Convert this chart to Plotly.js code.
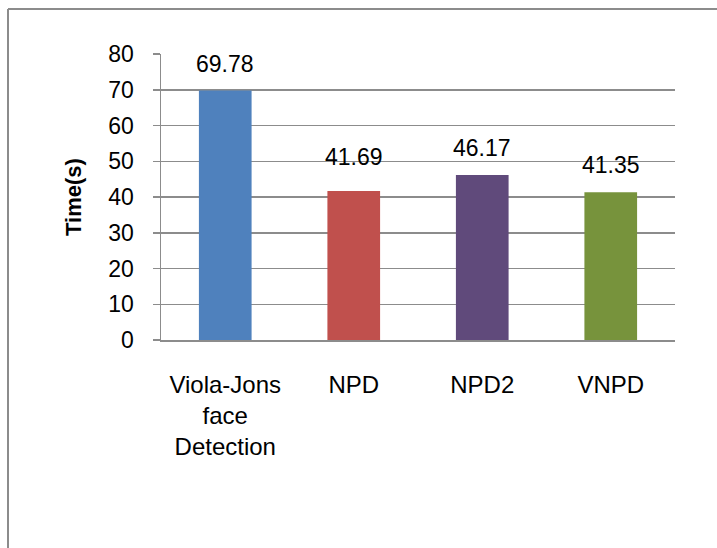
<!DOCTYPE html>
<html>
<head>
<meta charset="utf-8">
<script src="https://cdn.plot.ly/plotly-3.0.1.min.js"></script>
<style>
html,body{margin:0;padding:0;background:#fff;}
#chart{width:717px;height:548px;}
</style>
</head>
<body>
<div id="chart"></div>
<script>
const categories = ["Viola-Jons<br>face<br>Detection", "NPD", "NPD2", "VNPD"];
const values = [69.78, 41.69, 46.17, 41.35];
const valueLabels = ["69.78", "41.69", "46.17", "41.35"];
const colors = ["#4f81bd", "#c0504d", "#604a7b", "#77933c"];
const yTicks = [0, 10, 20, 30, 40, 50, 60, 70, 80];
// label offsets above bar tops (px), styling only
const labelShift = [12, 19, 12, 12];

const FONT = "Liberation Sans, Arial, sans-serif";
const L = 161, R = 42, T = 54, B = 208, W = 717, H = 548;
const pw = W - L - R, ph = H - T - B;
const px = v => (v - L) / pw;
const py = v => (H - B - v) / ph;

const trace = {
  type: "bar",
  x: categories,
  y: values,
  marker: {color: colors, line: {width: 0}},
  width: 0.41,
  hoverinfo: "none"
};

const annotations = categories.map((c, i) => ({
  x: c, y: values[i], xref: "x", yref: "y",
  text: valueLabels[i], showarrow: false,
  yanchor: "bottom", yshift: labelShift[i],
  font: {family: FONT, size: 23, color: "#000"}
}));

const frameColor = "#8c8c8c";
const shapes = [
  {type: "line", xref: "paper", yref: "paper", x0: px(8), x1: px(730), y0: py(9), y1: py(9),
   line: {color: frameColor, width: 2}},
  {type: "line", xref: "paper", yref: "paper", x0: px(8), x1: px(8), y0: py(9), y1: py(560),
   line: {color: frameColor, width: 2}}
];

const layout = {
  width: W, height: H,
  margin: {l: L, r: R, t: T, b: B, pad: 0},
  paper_bgcolor: "#fff",
  plot_bgcolor: "#fff",
  showlegend: false,
  bargap: 0.59,
  xaxis: {
    type: "category",
    showline: true, linecolor: "#8c8c8c", linewidth: 2,
    ticks: "", showgrid: false, zeroline: false,
    tickfont: {family: FONT, size: 24, color: "#000"},
    ticklabelstandoff: 22,
    fixedrange: true
  },
  yaxis: {
    range: [0, 80],
    tickvals: yTicks,
    ticktext: yTicks.map(String),
    showline: true, linecolor: "#8c8c8c", linewidth: 1.5,
    ticks: "outside", ticklen: 7, tickcolor: "#8c8c8c", tickwidth: 1.5,
    showgrid: true, gridcolor: "#8c8c8c", gridwidth: 1.5,
    zeroline: false,
    tickfont: {family: FONT, size: 23, color: "#000"},
    ticklabelstandoff: 14,
    title: {text: "<b>Time(s)</b>", font: {family: FONT, size: 22, color: "#000"}, standoff: 20},
    fixedrange: true
  },
  annotations: annotations,
  shapes: shapes
};

Plotly.newPlot("chart", [trace], layout, {displayModeBar: false, staticPlot: true});
</script>
</body>
</html>
